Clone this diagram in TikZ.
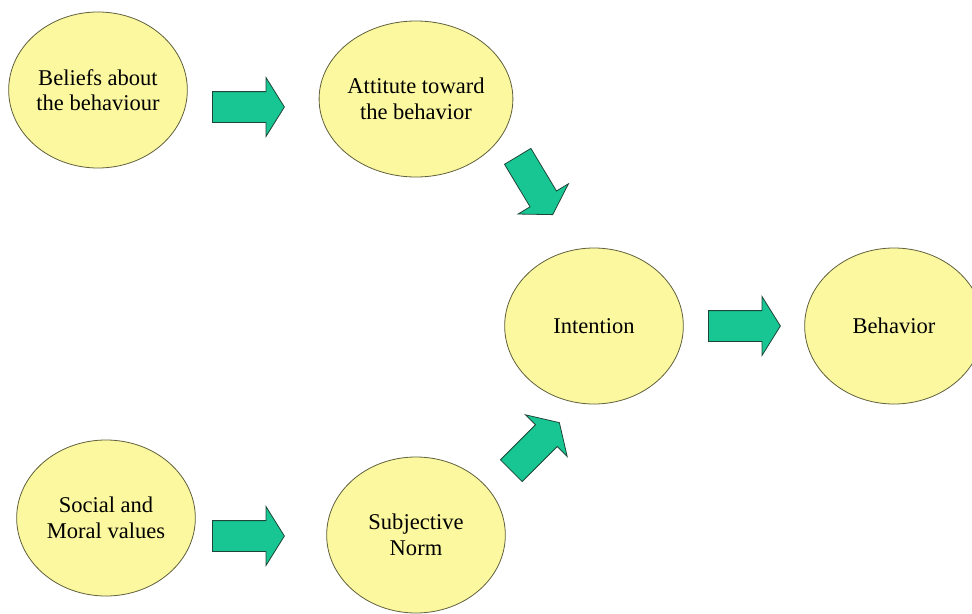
\documentclass[tikz,border=0pt]{standalone}
\usepackage{fontspec}
\setmainfont{Liberation Serif}
\usetikzlibrary{shapes.geometric,shapes.arrows}
\definecolor{bubblefill}{RGB}{252,248,160}
\definecolor{bubbleline}{RGB}{95,95,60}
\definecolor{arrowfill}{RGB}{24,198,148}
\definecolor{arrowline}{RGB}{30,70,55}
\begin{document}
\begin{tikzpicture}[x=0.75pt,y=-0.75pt,
    bubble/.style={ellipse,draw=bubbleline,fill=bubblefill,line width=0.6pt,
        minimum width=134pt,minimum height=117pt,inner sep=0pt,align=center,
        font=\fontsize{16.9}{19.2}\selectfont},
    blockarrow/.style={single arrow,draw=arrowline,fill=arrowfill,line width=0.6pt,
        inner xsep=0pt,inner ysep=11.25pt,single arrow head extend=10.5pt,
        single arrow tip angle=116,minimum height=#1,anchor=tail},
    blockarrow/.default=54pt]
            \useasboundingbox (0,0) rectangle (972,614);
            \def\rowtop{90}
            \def\rowmid{326}
            \def\rowlow{527}

            \node[bubble] (beliefs) at (98,\rowtop) {Beliefs about\\the behaviour};
            \node[bubble] (attitude) at (416,99) {Attitute toward\\the behavior};
            \node[bubble] (intention) at (594,\rowmid) {Intention};
            \node[bubble] (behavior) at (894,\rowmid) {Behavior};
            \node[bubble] (social) at (106,518) {Social and\\Moral values};
            \node[bubble] (subjective) at (416,535) {Subjective\\Norm};

            \node[blockarrow] (toattitude) at (212,107) {};
            \node[blockarrow] (tonorm) at (212,536) {};
            \node[blockarrow] (tobehavior) at (708,\rowmid) {};
            % diagonal ones into the intention
            \node[blockarrow=51pt,rotate=-59] (fromattitude) at (517.5,156) {};
            \node[blockarrow=51pt,rotate=45] (fromnorm) at (511,471) {};
        \end{tikzpicture}
\end{document}
